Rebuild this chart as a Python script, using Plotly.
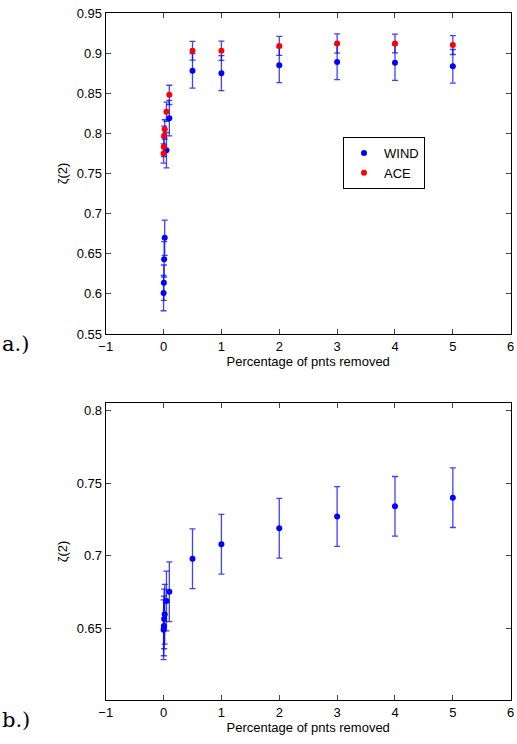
import plotly.graph_objects as go

# ---- data (panel a) ----
pct_a = [0, 0.005, 0.01, 0.02, 0.05, 0.1, 0.5, 1, 2, 3, 4, 5]
wind_a = [0.601, 0.614, 0.643, 0.670, 0.779, 0.819, 0.878, 0.875, 0.885, 0.889, 0.888, 0.8835]
wind_a_err = [0.022, 0.022, 0.022, 0.022, 0.022, 0.022, 0.0215, 0.0218, 0.0218, 0.022, 0.022, 0.021]
ace_a = [0.775, 0.783, 0.797, 0.805, 0.827, 0.848, 0.903, 0.903, 0.909, 0.912, 0.912, 0.910]
ace_a_err = [0.012, 0.012, 0.012, 0.012, 0.012, 0.012, 0.0117, 0.012, 0.0118, 0.012, 0.0118, 0.0117]

# ---- data (panel b) ----
pct_b = [0, 0.005, 0.01, 0.02, 0.05, 0.1, 0.5, 1, 2, 3, 4, 5]
wind_b = [0.6493, 0.6519, 0.6567, 0.6599, 0.669, 0.6754, 0.698, 0.708, 0.719, 0.727, 0.734, 0.740]
wind_b_err = [0.0205, 0.0205, 0.0205, 0.0205, 0.0205, 0.0205, 0.0205, 0.0205, 0.0205, 0.0205, 0.0205, 0.0205]

yticks_a = [0.55, 0.6, 0.65, 0.7, 0.75, 0.8, 0.85, 0.9, 0.95]
yticks_b = [0.65, 0.7, 0.75, 0.8]
xticks = [-1, 0, 1, 2, 3, 4, 5, 6]

BLUE = "rgb(0,0,255)"
RED = "rgb(255,0,0)"
ERR = "rgba(0,0,255,0.75)"
FONT = "Liberation Sans, Arial, sans-serif"

fig = go.Figure()
fig.add_trace(go.Scatter(
    x=pct_a, y=wind_a, mode="markers", name="WIND",
    marker=dict(color=BLUE, size=6),
    error_y=dict(type="data", array=wind_a_err, color=ERR, thickness=1.3, width=3),
    xaxis="x", yaxis="y"))
fig.add_trace(go.Scatter(
    x=pct_a, y=ace_a, mode="markers", name="ACE",
    marker=dict(color=RED, size=6),
    error_y=dict(type="data", array=ace_a_err, color=ERR, thickness=1.3, width=3),
    xaxis="x", yaxis="y"))
fig.add_trace(go.Scatter(
    x=pct_b, y=wind_b, mode="markers", name="WIND", showlegend=False,
    marker=dict(color=BLUE, size=6),
    error_y=dict(type="data", array=wind_b_err, color=ERR, thickness=1.3, width=3),
    xaxis="x2", yaxis="y2"))

W, H = 517, 744
x0, x1 = 105.7 / W, 510.7 / W

axis_common = dict(
    showline=True, linecolor="black", linewidth=1.2, mirror="allticks",
    ticks="inside", ticklen=5, tickcolor="#444", tickwidth=1,
    showgrid=False, zeroline=False,
    tickfont=dict(family=FONT, size=13, color="black"),
)

fig.update_layout(
    width=W, height=H,
    margin=dict(l=0, r=0, t=0, b=0),
    plot_bgcolor="white", paper_bgcolor="white",
    font=dict(family=FONT, size=13, color="black"),
    xaxis=dict(domain=[x0, x1], range=[-1, 6], tickvals=xticks, anchor="y",
               title=dict(text="Percentage of pnts removed", standoff=2,
                          font=dict(family=FONT, size=13)),
               automargin=False, **axis_common),
    yaxis=dict(domain=[1 - 334 / H, 1 - 13 / H], range=[0.55, 0.95], tickvals=yticks_a,
               ticktext=[f"{v:g}" for v in yticks_a], anchor="x",
               title=dict(text="ζ(2)", standoff=6, font=dict(family=FONT, size=13)),
               automargin=False, **axis_common),
    xaxis2=dict(domain=[x0, x1], range=[-1, 6], tickvals=xticks, anchor="y2",
                title=dict(text="Percentage of pnts removed", standoff=2,
                           font=dict(family=FONT, size=13)),
                automargin=False, **axis_common),
    yaxis2=dict(domain=[1 - 700 / H, 1 - 403 / H], range=[0.601, 0.805], tickvals=yticks_b,
                ticktext=[f"{v:g}" for v in yticks_b], anchor="x2",
                title=dict(text="ζ(2)", standoff=6, font=dict(family=FONT, size=13)),
                automargin=False, **axis_common),
    legend=dict(x=343 / W, y=1 - 137 / H, xanchor="left", yanchor="top",
                bordercolor="black", borderwidth=1, bgcolor="white",
                font=dict(family=FONT, size=13), itemwidth=30,
                tracegroupgap=0),
    annotations=[
        dict(text="a.)", x=0, y=1 - 344 / H, xref="paper", yref="paper",
             xanchor="left", yanchor="middle", showarrow=False,
             font=dict(family="DejaVu Serif, serif", size=21, color="black")),
        dict(text="b.)", x=0, y=1 - 720 / H, xref="paper", yref="paper",
             xanchor="left", yanchor="middle", showarrow=False,
             font=dict(family="DejaVu Serif, serif", size=21, color="black")),
    ],
)

fig.write_html("out.html", config={"displayModeBar": False},
               post_script="document.body.style.margin='0';")
